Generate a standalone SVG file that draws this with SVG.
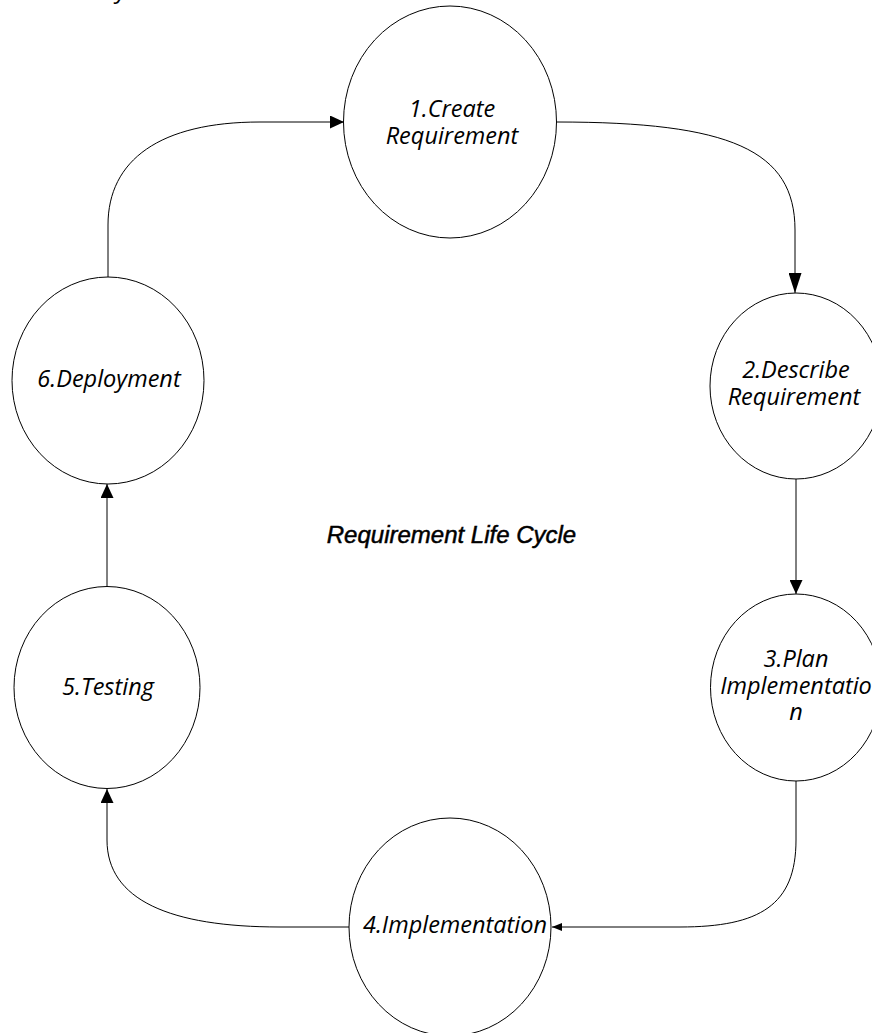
<svg xmlns="http://www.w3.org/2000/svg" width="872" height="1033" viewBox="0 0 872 1033">
<style>
.node ellipse{fill:#fff;stroke:#000;stroke-width:1}
.lbl{font-family:"Open Sans","Noto Sans",sans-serif;font-style:italic;font-size:23.5px;fill:#000;text-anchor:middle}
.title{font-family:"Liberation Sans",Arial,sans-serif;font-style:italic;font-size:24px;fill:#000;stroke:#000;stroke-width:0.5;text-anchor:middle}
.conn path{fill:none;stroke:#000;stroke-width:1}
</style>
<defs>
<marker id="a" markerUnits="userSpaceOnUse" markerWidth="14" markerHeight="13" refX="14" refY="6.5" orient="auto"><path d="M0,0 L14,6.5 L0,13 z" fill="#000"/></marker>
<marker id="aL" markerUnits="userSpaceOnUse" markerWidth="20" markerHeight="13" refX="20" refY="6.5" orient="auto"><path d="M0,0 L20,6.5 L0,13 z" fill="#000"/></marker>
<marker id="aS" markerUnits="userSpaceOnUse" markerWidth="10" markerHeight="8" refX="10" refY="4" orient="auto"><path d="M0,0 L10,4 L0,8 z" fill="#000"/></marker>
</defs>
<rect width="872" height="1033" fill="#fff"/>
<text class="lbl" x="116" y="-2" style="text-anchor:start">y</text>
<g class="conn" id="connectors">
<path d="M557,122 C730,122 795,150 795,230 L795,293" marker-end="url(#aL)"/>
<path d="M796,479 L796,594" marker-end="url(#a)"/>
<path d="M796,781 L796,840 C796,905 760,927 680,927 L552,927" marker-end="url(#aS)"/>
<path d="M349,927 L280,927 C170,927 107,900 107,840 L107,789" marker-end="url(#a)"/>
<path d="M107,587 L107,484" marker-end="url(#a)"/>
<path d="M108,277 L108,225 C108,160 160,122 260,122 L344,122" marker-end="url(#a)"/>
</g>
<g class="node" id="n1"><ellipse cx="450" cy="122" rx="106.5" ry="116"/><text class="lbl" x="452" y="116.5">1.Create</text><text class="lbl" x="452" y="143.5">Requirement</text></g>
<g class="node" id="n2"><ellipse cx="796" cy="386" rx="86" ry="93"/><text class="lbl" x="796" y="378">2.Describe</text><text class="lbl" x="794" y="405">Requirement</text></g>
<g class="node" id="n3"><ellipse cx="796" cy="687.5" rx="85.5" ry="93.5"/><text class="lbl" x="796" y="667">3.Plan</text><text class="lbl" x="796" y="693.5">Implementatio</text><text class="lbl" x="796" y="719.5">n</text></g>
<g class="node" id="n4"><ellipse cx="450" cy="927" rx="101" ry="109"/><text class="lbl" x="455" y="933">4.Implementation</text></g>
<g class="node" id="n5"><ellipse cx="107" cy="687.5" rx="93" ry="101"/><text class="lbl" x="108" y="695">5.Testing</text></g>
<g class="node" id="n6"><ellipse cx="108" cy="380.5" rx="96" ry="103.5"/><text class="lbl" x="109" y="387">6.Deployment</text></g>
<text class="title" x="451.5" y="542.5">Requirement Life Cycle</text>
</svg>
